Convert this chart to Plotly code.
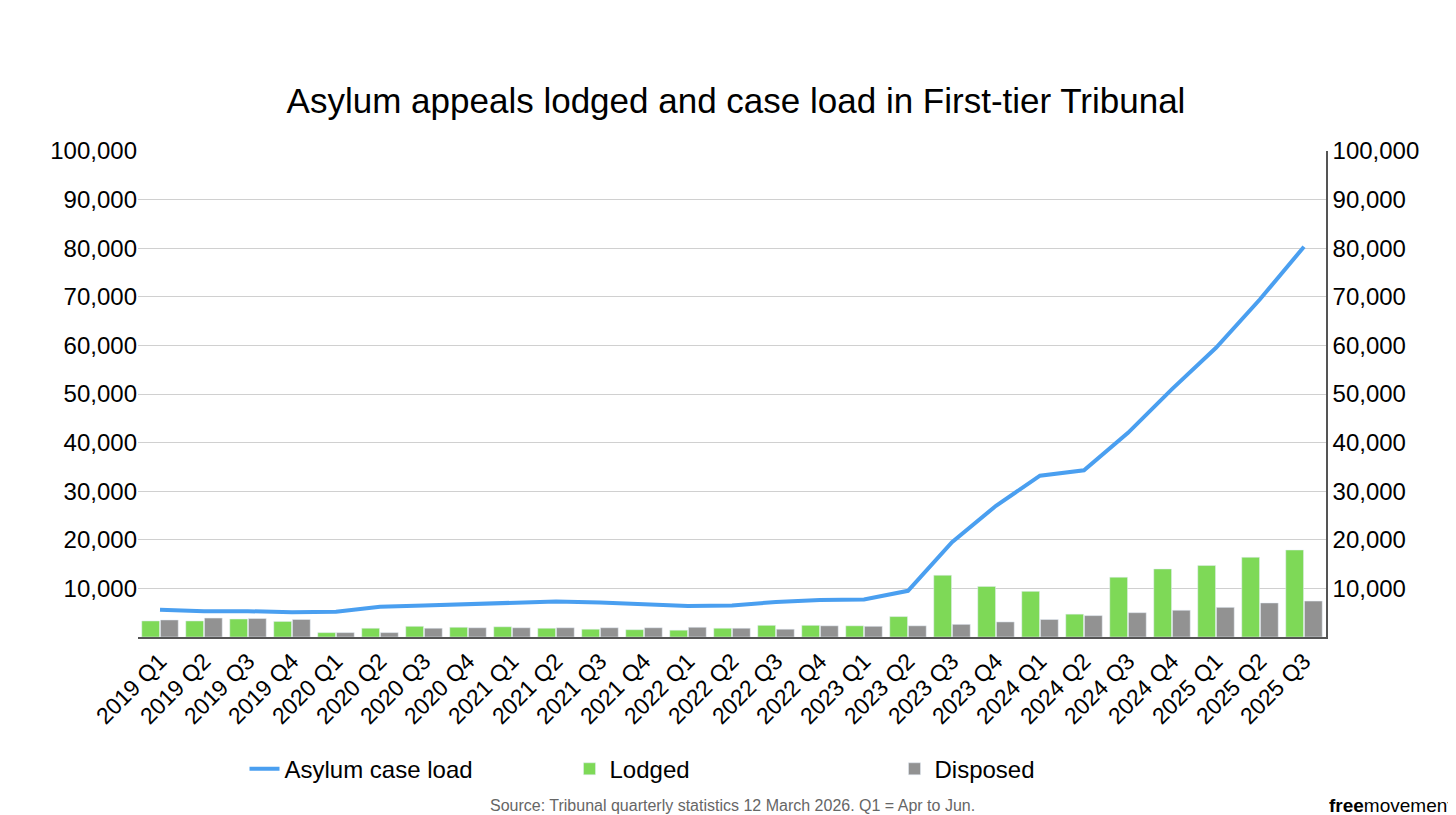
import plotly.graph_objects as go

quarters = [f"{y} Q{q}" for y in range(2019, 2026) for q in range(1, 5)][:27]
lodged = [3300, 3300, 3700, 3200, 900, 1800, 2200, 2000, 2100, 1800, 1600, 1500, 1400, 1800,
          2400, 2400, 2300, 4200, 12700, 10400, 9400, 4700, 12300, 14000, 14700, 16400, 17900]
disposed = [3500, 3900, 3800, 3600, 900, 900, 1800, 1900, 1900, 1900, 1900, 1900, 2000, 1800,
            1600, 2300, 2200, 2300, 2600, 3100, 3600, 4400, 5000, 5500, 6100, 7000, 7400]
case_load = [5600, 5300, 5300, 5100, 5200, 6200, 6500, 6700, 7100, 7300, 7100, 6800, 6400, 6500,
             7200, 7600, 7700, 9500, 19500, 27000, 33200, 34300, 42000, 51000, 59500, 69500, 80300]

tickvals = list(range(10000, 100001, 10000))
ticktext = [f"{v:,}" for v in tickvals]
font = "Liberation Sans, Arial, sans-serif"

fig = go.Figure()
fig.add_trace(go.Scatter(x=quarters, y=case_load, name="Asylum case load", mode="lines",
                         line=dict(color="#4a9ff0", width=4)))
fig.add_trace(go.Bar(x=quarters, y=lodged, name="Lodged", marker_color="#7ed957"))
fig.add_trace(go.Bar(x=quarters, y=disposed, name="Disposed", marker_color="#929292"))
# invisible trace to draw the right axis
fig.add_trace(go.Scatter(x=quarters, y=case_load, yaxis="y2", showlegend=False,
                         hoverinfo="skip", line=dict(color="rgba(0,0,0,0)")))

fig.update_layout(
    width=1456, height=815,
    paper_bgcolor="white", plot_bgcolor="white",
    font=dict(family=font, size=24, color="black"),
    title=dict(text="Asylum appeals lodged and case load in First-tier Tribunal",
               x=0.5, y=0.886, yanchor="middle", xanchor="center", font=dict(size=35)),
    margin=dict(l=130, r=138, t=143, b=186, autoexpand=False),
    barmode="group", bargap=0.15, bargroupgap=0.05,
    xaxis=dict(tickangle=-45, showline=True, linecolor="#555", linewidth=1.5,
               tickfont=dict(size=23)),
    yaxis=dict(range=[0, 100000], tickvals=tickvals, ticktext=ticktext,
               gridcolor="#d0d0d0", zeroline=False),
    yaxis2=dict(range=[0, 100000], tickvals=tickvals, ticktext=ticktext, overlaying="y",
                side="right", showgrid=False, showline=True, linecolor="#555", linewidth=1.5),
    legend=dict(orientation="h", x=0.5, xanchor="center", y=-0.272, yanchor="middle",
                font=dict(size=24), traceorder="normal", entrywidth=280),
)
fig.add_annotation(text="Source: Tribunal quarterly statistics 12 March 2026. Q1 = Apr to Jun.",
                   xref="paper", yref="paper", x=0.5, y=-0.346, yanchor="middle",
                   showarrow=False, font=dict(size=16, color="#666"))
fig.add_annotation(text="<b>free</b>movement", xref="paper", yref="paper", x=1.109, y=-0.346,
                   xanchor="right", yanchor="middle", showarrow=False,
                   font=dict(size=19, color="black"))

fig.write_html("out.html")
